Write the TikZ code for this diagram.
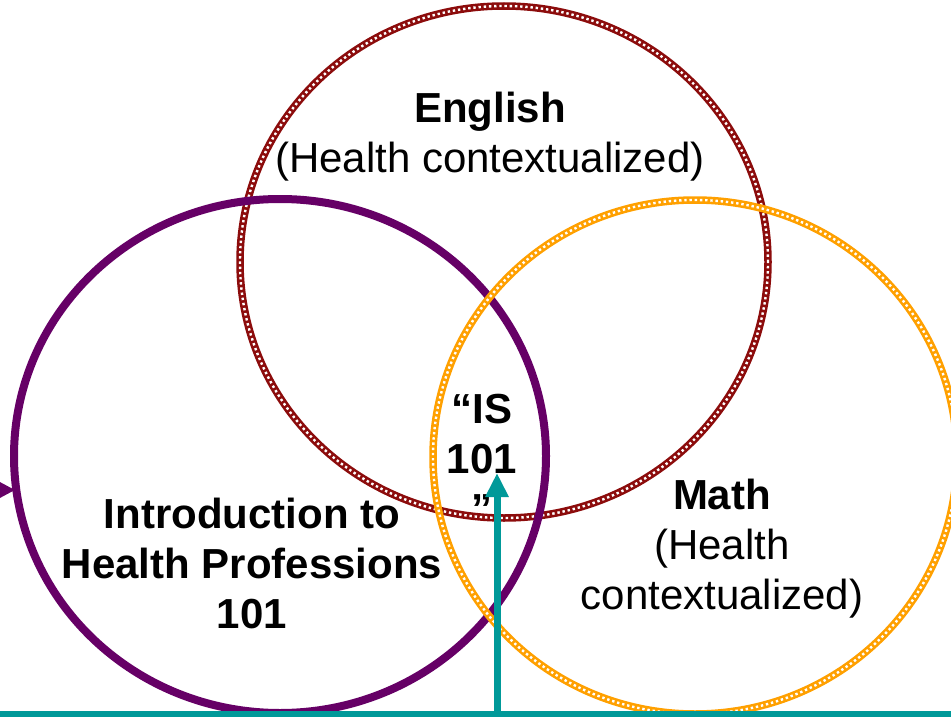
\documentclass[tikz,border=0pt]{standalone}
\usepackage{fontspec}
\setmainfont{Liberation Sans}
\usetikzlibrary{shapes.geometric,arrows.meta}

\definecolor{engred}{RGB}{140,12,12}
\definecolor{mathorange}{RGB}{255,160,0}
\definecolor{hpurple}{RGB}{102,0,102}
\definecolor{hteal}{RGB}{0,153,153}

\tikzset{
  ring/.style={ellipse, inner sep=0pt, line width=7.5pt, draw=#1,
    postaction={draw=white, line width=2.4pt, dash pattern=on 2.4pt off 2.8pt}},
  solidring/.style={ellipse, inner sep=0pt, line width=8pt, draw=#1},
  venntext/.style={anchor=base, align=center, inner sep=0pt,
    font=\fontsize{42}{50}\selectfont},
}

\begin{document}
\begin{tikzpicture}[x=1pt,y=-1pt]

        \useasboundingbox (0,0) rectangle (951,717);

        % the three subjects
        \node[ring=engred, minimum width=528, minimum height=512] (english) at (504,262) {};
        \node[solidring=hpurple, minimum width=532, minimum height=514] (intro) at (280,456) {};
        \node[ring=mathorange, minimum width=524, minimum height=514] (math) at (695,457) {};

        % texts (base = last line)
        \node[venntext] (englishtxt) at (490,172) {\textbf{English}\\(Health contextualized)};
        \node[venntext] (introtxt) at (252,628) {\textbf{Introduction to}\\\textbf{Health Professions}\\\textbf{101}};
        \node[venntext] (mathtxt) at (722,609) {\textbf{Math}\\(Health\\contextualized)};
        \node[venntext] (istxt) at (482,523) {\textbf{“IS}\\\textbf{101}\\\textbf{”}};

        % arrows
        \coordinate (base) at (0,714);
        \coordinate (baseend) at (951,714);
        \coordinate (foot) at (497,714);
        \coordinate (tip) at (497,473);
        \coordinate (left) at (0,490);
        \coordinate (lefttip) at (15,490);

        \draw[hteal, line width=6pt] (base) -- (baseend);
        \draw[hteal, line width=7pt, -{Triangle[width=22pt,length=24pt]}] (foot) -- (tip);
        \draw[hpurple, line width=3pt, -{Triangle[width=15pt,length=15pt]}] (left) -- (lefttip);

      \end{tikzpicture}
\end{document}
